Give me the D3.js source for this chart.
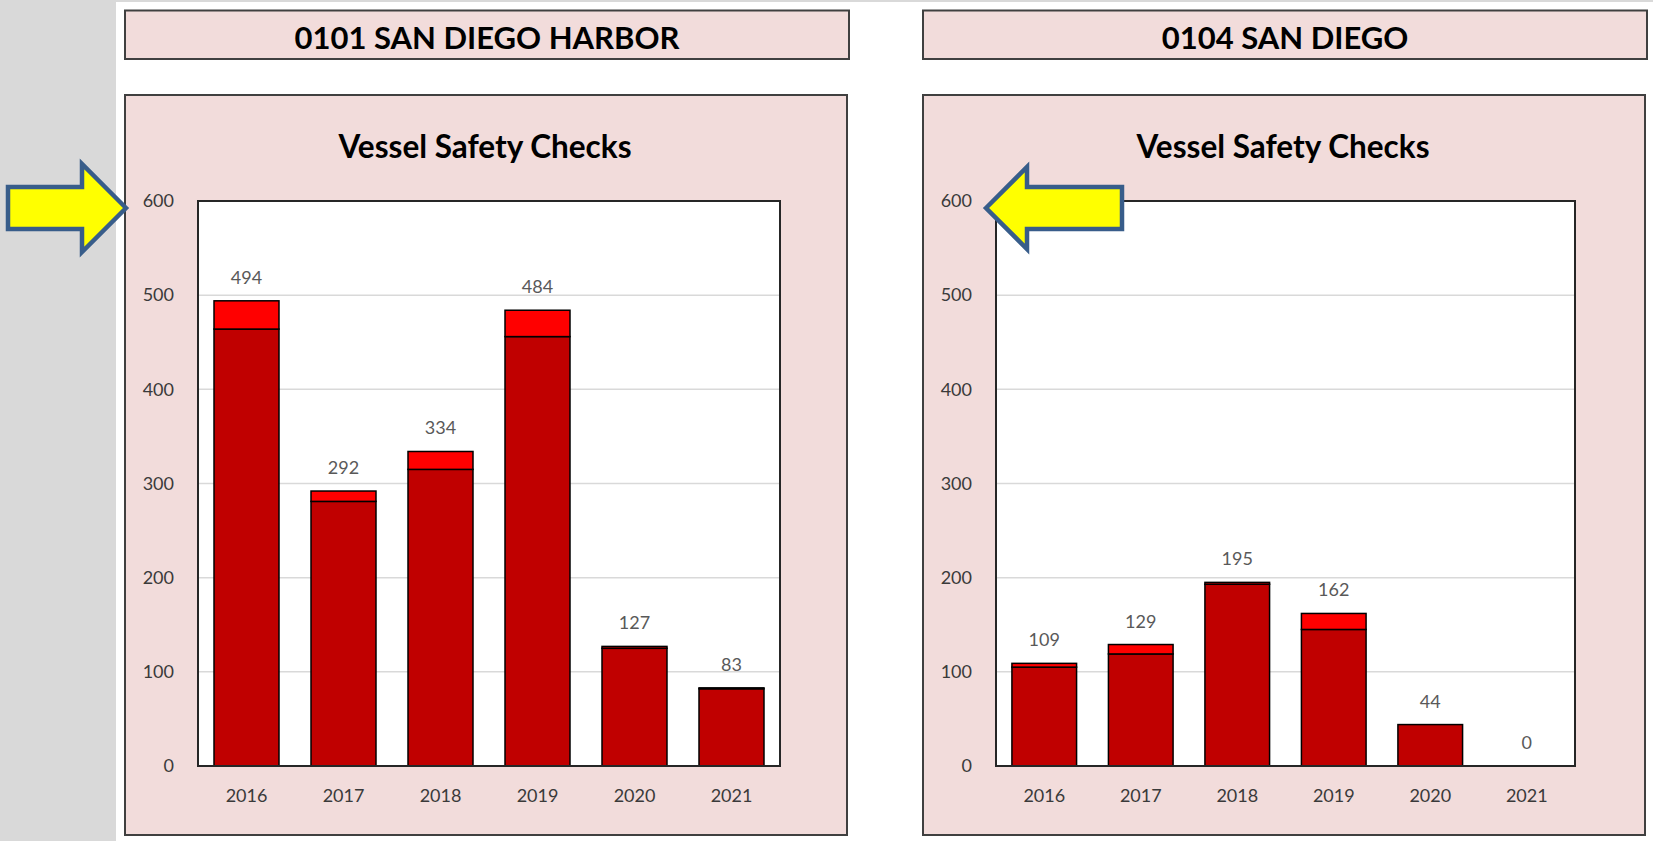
<!DOCTYPE html>
<html>
<head>
<meta charset="utf-8">
<script src="https://cdn.jsdelivr.net/npm/d3@7"></script>
<style>
  body { margin: 0; background: #fff; }
  svg { display: block; font-family: Lato, "Liberation Sans", sans-serif; }
</style>
</head>
<body>
<svg id="chart" width="1653" height="841"></svg>
<script>
// Data
var years = ["2016", "2017", "2018", "2019", "2020", "2021"];
var yTicks = [0, 100, 200, 300, 400, 500, 600];
var chartTitle = "Vessel Safety Checks";

// 0101 San Diego Harbor
var harborTitle = "0101 SAN DIEGO HARBOR";
var harborLower = [464, 281, 315, 456, 125, 82];
var harborUpper = [30, 11, 19, 28, 2, 1];

// 0104 San Diego
var sanDiegoTitle = "0104 SAN DIEGO";
var sanDiegoLower = [105, 119, 193, 145, 44, 0];
var sanDiegoUpper = [4, 10, 2, 17, 0, 0];

var svg = d3.select("#chart");

// grey strip on the left and thin grey line on top
svg.append("rect").attr("x", 0).attr("y", 0).attr("width", 116).attr("height", 841).attr("fill", "#d9d9d9");
svg.append("rect").attr("x", 116).attr("y", 0).attr("width", 1537).attr("height", 2).attr("fill", "#d9d9d9");

var pink = "#f2dcdb",
    frame = "#404040";

drawPanel(0, 582, harborTitle, harborLower, harborUpper, "right");
drawPanel(798, 579, sanDiegoTitle, sanDiegoLower, sanDiegoUpper, "left");

function drawPanel(offsetX, width, title, lower, upper, arrowDir) {
    var panel = svg.append("g").attr("transform", "translate(" + offsetX + ",0)");

    // Header box
    panel.append("rect")
        .attr("x", 125).attr("y", 10.5)
        .attr("width", 724).attr("height", 48.5)
        .attr("fill", pink).attr("stroke", frame).attr("stroke-width", 2);
    panel.append("text")
        .attr("x", 487).attr("y", 49)
        .attr("text-anchor", "middle")
        .attr("font-size", 31).attr("font-weight", "bold")
        .attr("fill", "#000")
        .text(title);

    // Chart box
    panel.append("rect")
        .attr("x", 125).attr("y", 95)
        .attr("width", 722).attr("height", 740)
        .attr("fill", pink).attr("stroke", frame).attr("stroke-width", 2);
    panel.append("text")
        .attr("x", 485).attr("y", 158)
        .attr("text-anchor", "middle")
        .attr("font-size", 31.5).attr("font-weight", "bold")
        .attr("fill", "#000")
        .text(chartTitle);

    var margin = {left: 198, top: 201},
        height = 565;

    var x = d3.scaleBand().domain(years).range([0, width]).paddingInner(0.33).paddingOuter(0.165),
        y = d3.scaleLinear().domain([0, 600]).range([height, 0]);

    var plot = panel.append("g")
        .attr("transform", "translate(" + margin.left + "," + margin.top + ")");

    plot.append("rect")
        .attr("width", width).attr("height", height)
        .attr("fill", "#fff");

    // Gridlines
    plot.selectAll(".grid")
        .data(yTicks.slice(1))
        .enter()
            .append("line")
            .attr("class", "grid")
            .attr("x1", 0).attr("x2", width)
            .attr("y1", function(d) { return y(d); })
            .attr("y2", function(d) { return y(d); })
            .attr("stroke", "#d9d9d9").attr("stroke-width", 1.5);

    // Y axis labels
    var yAxis = plot.append("g")
        .call(d3.axisLeft(y).tickValues(yTicks).tickSize(0).tickPadding(24));
    yAxis.select(".domain").remove();
    yAxis.selectAll("text")
        .attr("font-family", "Lato, sans-serif")
        .attr("font-size", 18)
        .attr("fill", "#3a3a3a");

    // X axis labels
    var xAxis = plot.append("g")
        .attr("transform", "translate(0," + height + ")")
        .call(d3.axisBottom(x).tickSize(0).tickPadding(23));
    xAxis.select(".domain").remove();
    xAxis.selectAll("text")
        .attr("font-family", "Lato, sans-serif")
        .attr("font-size", 18)
        .attr("fill", "#3a3a3a");

    // Stacked bars
    var rows = years.map(function(yr, i) {
        return {year: yr, lower: lower[i], upper: upper[i]};
    });
    var stack = d3.stack().keys(["lower", "upper"])(rows);
    var colors = {lower: "#c00000", upper: "#ff0000"};

    plot.selectAll(".layer")
        .data(stack)
        .enter()
            .append("g")
            .attr("class", "layer")
            .attr("fill", function(s) { return colors[s.key]; })
            .selectAll("rect")
            .data(function(s) { return s.filter(function(d) { return d[1] > d[0]; }); })
            .enter()
                .append("rect")
                .attr("x", function(d) { return x(d.data.year); })
                .attr("y", function(d) { return y(d[1]); })
                .attr("width", x.bandwidth())
                .attr("height", function(d) { return y(d[0]) - y(d[1]); })
                .attr("stroke", "#000")
                .attr("stroke-width", 1.5);

    // Total labels
    plot.selectAll(".total")
        .data(rows)
        .enter()
            .append("text")
            .attr("class", "total")
            .attr("x", function(d) { return x(d.year) + x.bandwidth() / 2; })
            .attr("y", function(d) { return y(d.lower + d.upper) - 17; })
            .attr("text-anchor", "middle")
            .attr("font-size", 18)
            .attr("fill", "#595959")
            .text(function(d) { return d.lower + d.upper; });

    // Plot border on top
    plot.append("rect")
        .attr("width", width).attr("height", height)
        .attr("fill", "none")
        .attr("stroke", "#262626").attr("stroke-width", 2);

    // Yellow arrow pointing at the 600 label
    var tipY = margin.top + y(600) + 7;
    var arrow;
    if (arrowDir == "right") {
        // tip at (126, tipY)
        arrow = [[126, 0], [82, -44], [82, -21], [8, -21], [8, 21], [82, 21], [82, 44]];
    } else {
        arrow = [[188, 0], [229, -41], [229, -21], [324, -21], [324, 21], [229, 21], [229, 41]];
    }
    panel.append("path")
        .attr("d", d3.line()(arrow.map(function(p) { return [p[0], tipY + p[1]]; })) + "Z")
        .attr("fill", "#ffff00")
        .attr("stroke", "#385d8a")
        .attr("stroke-width", 4.5)
        .attr("stroke-linejoin", "miter");
}
</script>
</body>
</html>
